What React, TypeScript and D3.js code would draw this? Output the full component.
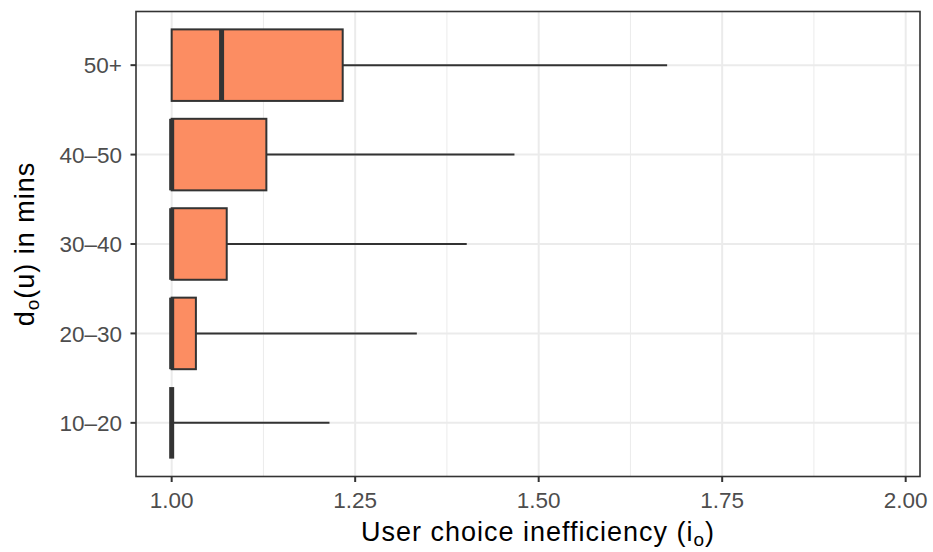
import React, { useRef, useEffect } from "react";
import * as d3 from "d3";

// box stats per travel-time group
const groups = ["10–20", "20–30", "30–40", "40–50", "50+"];
const lowerWhisker = [1.0, 1.0, 1.0, 1.0, 1.0];
const q1 = [1.0, 1.0, 1.0, 1.0, 1.0];
const median = [1.0, 1.0, 1.0, 1.0, 1.068];
const q3 = [1.0, 1.033, 1.075, 1.129, 1.233];
const upperWhisker = [1.215, 1.334, 1.402, 1.467, 1.675];

const xTicks = [1.0, 1.25, 1.5, 1.75, 2.0];
const xMinor = [1.125, 1.375, 1.625, 1.875];

const App = () => {
  const ref = useRef<SVGSVGElement>(null);

  const layout = {
    width: 933,
    height: 552,
    marginTop: 11.5,
    marginRight: 13,
    marginBottom: 75.5,
    marginLeft: 136,
  };

  useEffect(() => {
    const svg = d3.select(ref.current);
    svg.selectAll("*").remove();

    const fontFamily = "'Liberation Sans', Arial, Helvetica, sans-serif";
    const left = layout.marginLeft;
    const right = layout.width - layout.marginRight;
    const top = layout.marginTop;
    const bottom = layout.height - layout.marginBottom;

    const xScale = d3.scaleLinear().domain([0.9514, 2.0195]).range([left, right]);
    const yScale = d3
      .scalePoint<string>()
      .domain(groups.slice().reverse())
      .range([top, bottom])
      .padding(0.6);
    const boxH = yScale.step() * 0.8;

    const boxes = groups.map((g, i) => ({
      g,
      lo: lowerWhisker[i],
      q1: q1[i],
      med: median[i],
      q3: q3[i],
      hi: upperWhisker[i],
    }));

    svg.append("rect")
      .attr("x", left).attr("y", top)
      .attr("width", right - left).attr("height", bottom - top)
      .attr("fill", "white");

    // grid
    svg.append("g").selectAll("line")
      .data(xMinor)
      .join("line")
      .attr("x1", d => xScale(d)).attr("x2", d => xScale(d))
      .attr("y1", top).attr("y2", bottom)
      .attr("stroke", "#EBEBEB").attr("stroke-width", 1);

    svg.append("g").selectAll("line")
      .data(xTicks)
      .join("line")
      .attr("x1", d => xScale(d)).attr("x2", d => xScale(d))
      .attr("y1", top).attr("y2", bottom)
      .attr("stroke", "#EBEBEB").attr("stroke-width", 2);

    svg.append("g").selectAll("line")
      .data(groups)
      .join("line")
      .attr("x1", left).attr("x2", right)
      .attr("y1", d => yScale(d)!).attr("y2", d => yScale(d)!)
      .attr("stroke", "#EBEBEB").attr("stroke-width", 2);

    // whiskers
    const bg = svg.append("g");
    bg.selectAll(".whiskerHi")
      .data(boxes)
      .join("line")
      .attr("class", "whiskerHi")
      .attr("x1", d => xScale(d.q3)).attr("x2", d => xScale(d.hi))
      .attr("y1", d => yScale(d.g)!).attr("y2", d => yScale(d.g)!)
      .attr("stroke", "#333333").attr("stroke-width", 2);

    bg.selectAll(".whiskerLo")
      .data(boxes)
      .join("line")
      .attr("class", "whiskerLo")
      .attr("x1", d => xScale(d.lo)).attr("x2", d => xScale(d.q1))
      .attr("y1", d => yScale(d.g)!).attr("y2", d => yScale(d.g)!)
      .attr("stroke", "#333333").attr("stroke-width", 2);

    bg.selectAll(".box")
      .data(boxes)
      .join("rect")
      .attr("class", "box")
      .attr("x", d => xScale(d.q1))
      .attr("y", d => yScale(d.g)! - boxH / 2)
      .attr("width", d => xScale(d.q3) - xScale(d.q1))
      .attr("height", boxH)
      .attr("fill", "#FC8D62")
      .attr("stroke", "#333333")
      .attr("stroke-width", 2);

    bg.selectAll(".median")
      .data(boxes)
      .join("line")
      .attr("class", "median")
      .attr("x1", d => xScale(d.med)).attr("x2", d => xScale(d.med))
      .attr("y1", d => yScale(d.g)! - boxH / 2)
      .attr("y2", d => yScale(d.g)! + boxH / 2)
      .attr("stroke", "#333333").attr("stroke-width", 5);

    // panel border
    svg.append("rect")
      .attr("x", left).attr("y", top)
      .attr("width", right - left).attr("height", bottom - top)
      .attr("fill", "none")
      .attr("stroke", "#333333").attr("stroke-width", 1.6);

    // x axis
    const xAxis = svg.append("g").attr("transform", `translate(0, ${bottom})`);
    xAxis.selectAll("line")
      .data(xTicks)
      .join("line")
      .attr("x1", d => xScale(d)).attr("x2", d => xScale(d))
      .attr("y1", 0).attr("y2", 5.5)
      .attr("stroke", "#333333").attr("stroke-width", 2);
    xAxis.selectAll("text")
      .data(xTicks)
      .join("text")
      .attr("x", d => xScale(d))
      .attr("y", 31.5)
      .attr("text-anchor", "middle")
      .attr("font-family", fontFamily)
      .attr("font-size", 22.5)
      .attr("fill", "#4D4D4D")
      .text(d => d3.format(".2f")(d));

    // y axis
    const yAxis = svg.append("g").attr("transform", `translate(${left}, 0)`);
    yAxis.selectAll("line")
      .data(groups)
      .join("line")
      .attr("x1", -5.5).attr("x2", 0)
      .attr("y1", d => yScale(d)!).attr("y2", d => yScale(d)!)
      .attr("stroke", "#333333").attr("stroke-width", 2);
    yAxis.selectAll("text")
      .data(groups)
      .join("text")
      .attr("x", -14)
      .attr("y", d => yScale(d)!)
      .attr("dy", "0.36em")
      .attr("text-anchor", "end")
      .attr("font-family", fontFamily)
      .attr("font-size", 22.5)
      .attr("fill", "#4D4D4D")
      .text(d => d);

    // axis titles
    const xTitle = svg.append("text")
      .attr("x", (left + right) / 2 + 10)
      .attr("y", 541)
      .attr("text-anchor", "middle")
      .attr("font-family", fontFamily)
      .attr("font-size", 27)
      .attr("letter-spacing", 1)
      .attr("fill", "black");
    xTitle.append("tspan").text("User choice inefficiency (i");
    xTitle.append("tspan").attr("font-size", 19).attr("dy", 5).text("o");
    xTitle.append("tspan").attr("dy", -5).text(")");

    const yTitle = svg.append("text")
      .attr("transform", `translate(34, ${(top + bottom) / 2}) rotate(-90)`)
      .attr("text-anchor", "middle")
      .attr("font-family", fontFamily)
      .attr("font-size", 27)
      .attr("letter-spacing", 1)
      .attr("fill", "black");
    yTitle.append("tspan").text("d");
    yTitle.append("tspan").attr("font-size", 19).attr("dy", 5).text("o");
    yTitle.append("tspan").attr("dy", -5).text("(u) in mins");
  }, []);

  return (
    <div style={{ position: "absolute", left: 0, top: 0 }}>
      <svg ref={ref} width={layout.width} height={layout.height} style={{ display: "block" }} />
    </div>
  );
};

export default App;
